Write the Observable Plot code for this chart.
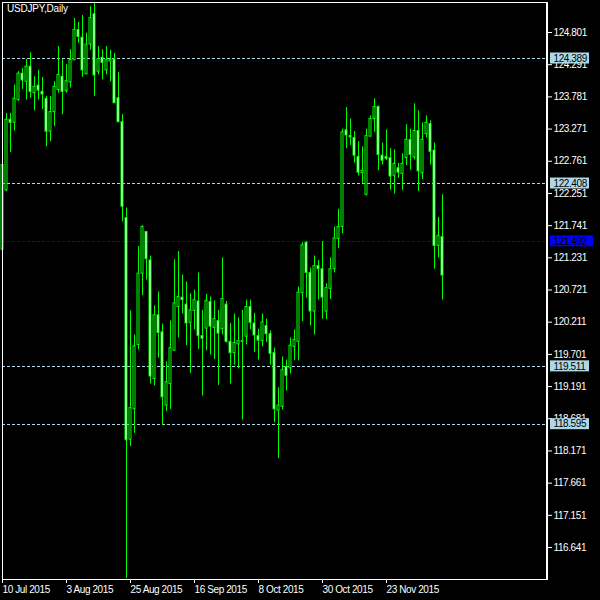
<!DOCTYPE html>
<html><head><meta charset="utf-8">
<script src="https://cdn.jsdelivr.net/npm/d3@7"></script>
<script src="https://cdn.jsdelivr.net/npm/@observablehq/plot@0.6"></script>
<style>
html,body{margin:0;padding:0;background:#000;}
#chart{position:relative;width:600px;height:600px;overflow:hidden;}
#chart svg{display:block;}
#chart svg text{letter-spacing:-0.4px;}
.title{position:absolute;left:7px;top:3px;color:#fff;font:10px "Liberation Sans",Arial,sans-serif;letter-spacing:-0.2px;white-space:nowrap;}
</style></head><body>
<div id="chart"><div class="title">USDJPY,Daily</div></div>
<script>
const open = [
121.36,122.30,123.42,123.37,123.73,124.15,124.02,124.26,123.84,123.96,
123.86,123.75,123.23,123.54,123.89,124.10,123.87,124.01,124.36,124.84,
124.72,124.14,124.61,125.09,124.18,124.40,124.20,124.34,124.37,123.76,
123.38,121.86,118.35,118.83,119.85,120.98,121.64,121.19,119.31,120.32,
120.05,118.89,119.23,119.76,120.45,120.60,120.49,120.20,120.39,120.54,
119.99,120.11,120.53,120.12,120.23,120.10,120.49,119.90,119.72,119.86,
119.90,119.98,120.45,120.19,119.99,119.91,120.15,120.02,119.72,118.81,
118.87,119.50,119.48,119.82,119.90,120.67,121.47,120.99,120.38,121.10,
121.05,120.38,120.74,121.05,121.53,121.72,123.25,123.16,123.13,122.83,
122.57,122.23,123.15,123.43,123.62,122.85,122.83,122.81,122.53,122.65,
122.56,122.81,123.10,122.82,123.24,122.57,123.19,123.35,122.93,121.42,
121.56];
const high = [
122.75,123.52,123.52,123.97,124.18,124.23,124.37,124.48,124.10,124.20,
124.09,123.79,123.79,124.02,124.58,124.37,124.29,124.53,125.02,124.96,
125.07,124.79,125.21,125.28,124.58,124.53,124.58,124.52,124.47,124.17,
123.50,122.02,120.39,120.01,121.41,121.74,121.65,121.26,120.47,120.69,
120.18,119.58,120.23,121.20,121.33,120.96,120.85,120.66,120.72,120.99,
120.40,120.65,120.61,120.55,120.40,121.23,120.54,120.19,120.34,120.28,
120.40,120.56,120.56,120.35,120.10,120.34,120.26,120.07,119.80,119.17,
119.66,119.61,119.96,120.09,120.77,121.47,121.49,121.07,121.26,121.19,
121.49,120.82,121.23,121.72,122.00,123.27,123.61,123.43,123.23,123.07,
122.99,123.27,123.48,123.75,123.64,123.05,123.26,122.96,122.94,122.73,
122.88,123.34,123.27,123.67,123.56,123.37,123.48,123.40,123.05,121.87,
122.23];
const low = [
121.30,122.28,122.90,123.24,123.71,123.90,123.73,123.76,123.56,123.73,
123.58,122.99,123.07,123.31,123.84,123.50,123.84,123.92,124.36,124.63,
124.09,124.13,124.52,123.79,124.13,124.05,124.13,124.02,123.68,123.37,
121.80,116.15,118.24,118.45,119.77,120.63,120.88,119.23,119.20,119.64,
118.58,118.79,118.83,119.75,119.96,120.34,119.84,119.40,120.09,119.78,
119.04,119.76,119.69,119.62,119.21,120.01,119.88,119.23,119.53,119.47,
118.66,119.85,120.09,119.73,119.61,119.82,119.89,119.53,118.62,118.05,
118.82,119.12,119.39,119.60,119.60,120.22,120.59,120.15,120.01,120.56,
120.26,120.25,120.57,120.99,121.38,121.61,122.96,123.01,122.73,122.53,
122.41,122.21,123.15,123.22,122.61,122.70,122.77,122.30,122.24,122.49,
122.30,122.69,122.62,122.78,122.28,122.47,123.13,122.70,121.05,121.23,
120.56];
const close = [
122.70,123.42,123.37,123.75,124.15,124.04,124.26,123.86,123.94,123.88,
123.82,123.23,123.54,123.94,124.13,123.86,124.03,124.37,124.84,124.73,
124.20,124.61,125.03,124.12,124.38,124.32,124.36,124.37,123.68,123.38,
122.04,118.34,118.85,119.83,120.98,121.72,121.21,119.35,120.32,120.04,
119.02,119.26,119.80,120.51,120.61,120.56,120.19,120.40,120.56,119.99,
119.95,120.55,120.14,120.26,120.03,120.58,119.90,119.72,119.88,119.91,
119.91,120.45,120.20,120.00,119.92,120.21,120.02,119.71,118.83,118.89,
119.45,119.36,119.84,119.93,120.68,121.43,120.99,120.38,121.10,121.05,
120.60,120.75,121.05,121.54,121.72,123.22,123.17,123.14,122.85,122.58,
122.61,123.16,123.43,123.62,122.86,122.77,122.80,122.52,122.72,122.58,
122.72,123.10,122.86,123.24,122.60,123.10,123.37,122.91,121.42,121.58,
120.95];
const xTickIdx = [0, 16, 32, 48, 64, 80, 96];
const xTickLabels = ["10 Jul 2015","3 Aug 2015","25 Aug 2015","16 Sep 2015","8 Oct 2015","30 Oct 2015","23 Nov 2015"];
const yTicks = [124.801,124.291,123.781,123.271,122.761,122.251,121.741,121.231,120.721,120.211,119.701,119.191,118.681,118.171,117.661,117.151,116.641];
const levels = [124.389, 122.408, 119.511, 118.595];
const bid = [121.492];

const data = open.map((o, i) => ({i, o, h: high[i], l: low[i], c: close[i]}));
const font = '"Liberation Sans", Arial, sans-serif';
const green = "#00ff00";

const chart = Plot.plot({
  width: 600, height: 600,
  marginLeft: 2, marginTop: 2, marginRight: 53, marginBottom: 21,
  style: {background: "#000", color: "#fff", fontFamily: font, fontSize: "10px"},
  x: {domain: [0, 136], range: [2, 546]},
  y: {domain: [116.641, 124.801], range: [547, 32]},
  marks: [
    Plot.ruleY(levels, {y: d => d, stroke: "#add8e6", strokeDasharray: "3,2", shapeRendering: "crispEdges"}),
    Plot.ruleY(bid, {y: d => d, stroke: "#0000ff", strokeDasharray: "3,2", shapeRendering: "crispEdges"}),
    Plot.ruleX(data, {x: "i", y1: "l", y2: "h", stroke: green, strokeWidth: 1}),
    Plot.rect(data, {x1: d => d.i - 0.25, x2: d => d.i + 0.25, y1: "o", y2: "c",
      fill: d => d.c >= d.o ? "#000" : "#fff", stroke: green}),
    Plot.frame({stroke: "#fff"}),
    Plot.ruleX([136], {x: d => d, stroke: "#fff", strokeWidth: 1}),
    Plot.axisY({anchor: "right", ticks: yTicks, tickSize: 4, tickPadding: 2,
      tickFormat: d3.format(".3f"), label: null, stroke: "#fff", fill: "#fff", fontSize: 10}),
    Plot.axisX({anchor: "bottom", ticks: xTickIdx, tickSize: 4, tickPadding: 2,
      tickFormat: d => xTickLabels[xTickIdx.indexOf(d)], textAnchor: "start", label: null,
      stroke: "#fff", fill: "#fff", fontSize: 10}),
    Plot.rect(levels, {x1: () => 137, x2: () => 146.75, y1: d => d, y2: d => d,
      insetTop: -5.5, insetBottom: -5.5, fill: "#add8e6"}),
    Plot.text(levels, {y: d => d, frameAnchor: "right", dx: 6, textAnchor: "start",
      text: d => d.toFixed(3), fill: "#000", fontSize: 10}),
    Plot.rect(bid, {x1: () => 137, x2: () => 147.75, y1: d => d, y2: d => d,
      insetTop: -5.5, insetBottom: -5.5, fill: "#0000ff"}),
    Plot.text(bid, {y: d => d, frameAnchor: "right", dx: 6, textAnchor: "start",
      text: d => d.toFixed(3), fill: "#000", fontSize: 10})
  ]
});
document.getElementById("chart").appendChild(chart);
</script>
</body></html>
